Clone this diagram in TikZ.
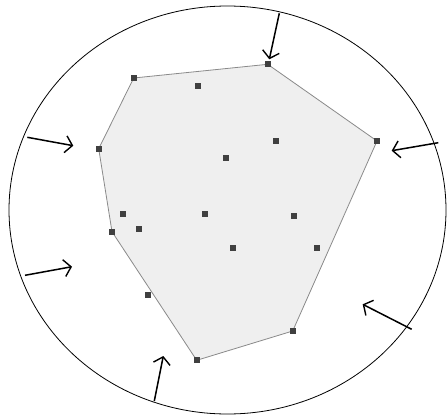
\documentclass[tikz,border=0pt]{standalone}
\usetikzlibrary{arrows.meta}
\definecolor{hullfill}{HTML}{EFEFEF}
\definecolor{hulledge}{HTML}{8A8A8A}
\definecolor{ptcol}{HTML}{404040}
\tikzset{
  pt/.style={fill=ptcol,minimum size=6pt,inner sep=0pt,draw=none,rectangle},
  push/.style={line width=1.5pt,-{Straight Barb[length=7pt,width=17pt,line width=1.4pt]}},
}
\begin{document}
\begin{tikzpicture}[x=1pt,y=-1pt]
\useasboundingbox (0,0) rectangle (447,415);
\draw[line width=0.8pt] (227.5,210) ellipse [x radius=218.5, y radius=204];
% hull vertices
\coordinate (A) at (133.7,78);
\coordinate (B) at (267.7,64.3);
\coordinate (C) at (377,141);
\coordinate (D) at (292.7,331);
\coordinate (E) at (196.7,360.3);
\coordinate (F) at (148.3,294.7);
\coordinate (G) at (112,231.7);
\coordinate (H) at (98.7,148.7);
\fill[hullfill] (A) -- (B) -- (C) -- (D) -- (E) -- (G) -- (H) -- cycle;
\draw[hulledge,line width=0.8pt] (A) -- (B) -- (C) -- (D) -- (E) -- (G) -- (H) -- cycle;
\foreach \p in {A,B,C,D,E,F,G,H} \node[pt] (n\p) at (\p) {};
% interior points
\node[pt] (p1) at (198,86) {};
\node[pt] (p2) at (275.7,140.7) {};
\node[pt] (p3) at (226,158.3) {};
\node[pt] (p4) at (123,214.3) {};
\node[pt] (p5) at (204.7,214.3) {};
\node[pt] (p6) at (294,216) {};
\node[pt] (p7) at (139,229.3) {};
\node[pt] (p8) at (233,247.7) {};
\node[pt] (p9) at (317,247.7) {};
% arrows
\coordinate (t1) at (279.3,13.3);   \coordinate (h1) at (269.3,59.3);
\coordinate (t2) at (27.3,137.3);   \coordinate (h2) at (73.3,145.7);
\coordinate (t3) at (438.3,142.7);  \coordinate (h3) at (391.7,150.7);
\coordinate (t4) at (25,275.3);     \coordinate (h4) at (72,266.7);
\coordinate (t5) at (411.7,329.3);  \coordinate (h5) at (362.7,304.3);
\coordinate (t6) at (154.3,401);    \coordinate (h6) at (163.3,356);
\foreach \i in {1,...,6} \draw[push] (t\i) -- (h\i);
\end{tikzpicture}
\end{document}
